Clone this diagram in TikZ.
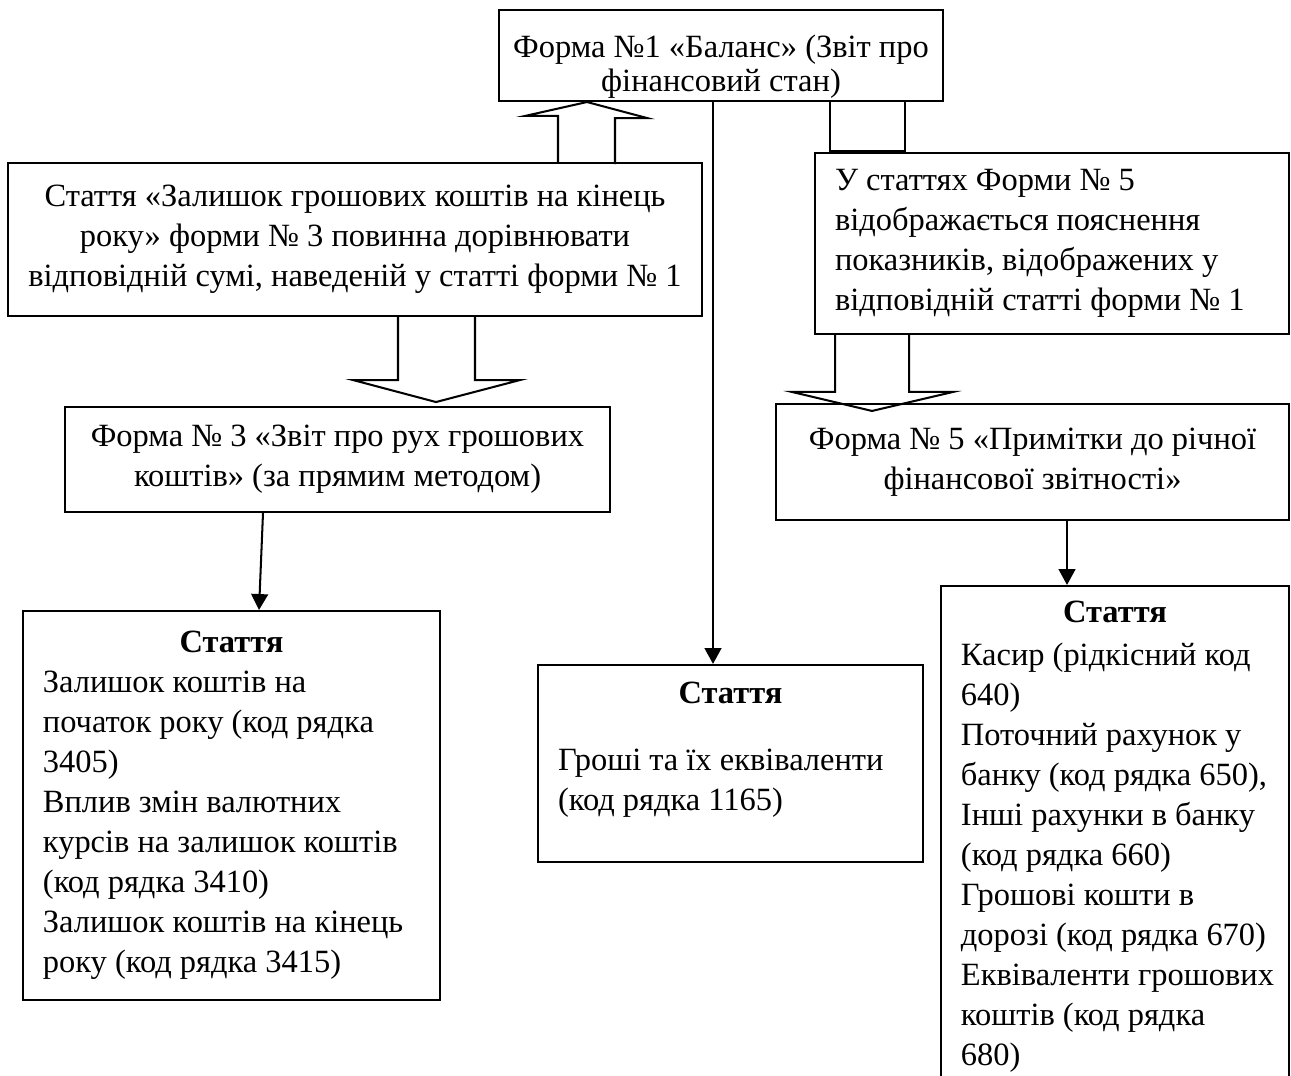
\documentclass[tikz,border=0pt]{standalone}
\usepackage{fontspec}
\setmainfont{Liberation Serif}
\usetikzlibrary{calc, arrows.meta}

\begin{document}
\begin{tikzpicture}[x=0.345pt, y=-0.345pt, line width=0.7pt, line join=miter,
    font=\fontsize{11.2}{13.8}\selectfont, >={Triangle[width=5.8pt, length=5.5pt]},
    box/.style={draw, align=center, inner sep=0pt},
    listbox/.style={draw, align=flush left, inner sep=0pt, execute at begin node={\leftskip=6.9pt}}]
    \useasboundingbox (0,0) rectangle (1291,1075);
    \node [box, align=flush center, text width=153.2pt, minimum height=31.4pt, font=\fontsize{11.2}{11.8}\selectfont] (bal) at (721,55.5)
        {\rule{0pt}{15.5pt}Форма №1 «Баланс» (Звіт про\\ фінансовий стан)};
    \node [box, minimum width=239.4pt, minimum height=52.8pt] (zal) at (355,239.5)
        {Стаття «Залишок грошових коштів на кінець\\ року» форми № 3 повинна дорівнювати\\ відповідній сумі, наведеній у статті форми № 1};
    \node [listbox, text width=163.5pt, minimum height=62.4pt] (pok) at (1052,243.5)
        {У статтях Форми № 5\\ відображається пояснення\\ показників, відображених у\\ відповідній статті форми № 1};
    \node [box, minimum width=188pt, minimum height=36.2pt] (f3) at (337.5,459.5)
        {Форма № 3 «Звіт про рух грошових\\ коштів» (за прямим методом)};
    \node [box, minimum width=177pt, minimum height=40pt] (f5) at (1032.5,462)
        {Форма № 5 «Примітки до річної\\ фінансової звітності»};
    \node [listbox, text width=143.9pt, minimum height=134.2pt] (stf3) at (231.5,805.5)
        {{\centering\textbf{Стаття}\par}Залишок коштів на\\ початок року (код рядка\\ 3405)\\ Вплив змін валютних\\ курсів на залишок коштів\\ (код рядка 3410)\\ Залишок коштів на кінець\\ року (код рядка 3415)};
    \node [listbox, text width=132.8pt, minimum height=68pt] (stf1) at (730.5,763.5)
        {{\centering\textbf{Стаття}\par}\vspace{9.3pt}Гроші та їх еквіваленти\\ (код рядка 1165)\rule[-12pt]{0pt}{12pt}};
    \node [listbox, text width=120.1pt, minimum height=173.2pt] (stf5) at (1115,837)
        {{\centering\textbf{Стаття}\par}\vspace{1pt}Касир (рідкісний код\\ 640)\\ Поточний рахунок у\\ банку (код рядка 650),\\ Інші рахунки в банку\\ (код рядка 660)\\ Грошові кошти в\\ дорозі (код рядка 670)\\ Еквіваленти грошових\\ коштів (код рядка\\ 680)};

    \draw ($(zal.north)+(203,0)$) -- ++(0,-46) -- ++(-33,0) -- ($(bal.south)+(-134,0)$) -- ++(60,16) -- ++(-32,0) -- ++(0,46);
    \draw ($(bal.south)+(109,0)$) -- ++(0,49) -- ++(75,0) -- ++(0,-49);
    \draw ($(zal.south)+(43,0)$) -- ++(0,63) -- ++(-45,0) -- ++(83,22) -- ++(84,-22) -- ++(-45,0) -- ++(0,-63);
    \draw ($(pok.south)+(-217,0)$) -- ++(0,57) -- ++(-43,0) -- ++(80,19) -- ++(81,-19) -- ++(-44,0) -- ++(0,-57);

    \coordinate (balout) at ($(bal.south)+(-8,0)$);
    \coordinate (f5out) at ($(f5.south)+(34.5,0)$);
    \draw [->] (balout) -- (balout |- stf1.north);
    \draw [->] ($(f3.south)+(-74.5,0)$) -- ($(stf3.north)+(27.5,0)$);
    \draw [->] (f5out) -- (f5out |- stf5.north);
\end{tikzpicture}
\end{document}
